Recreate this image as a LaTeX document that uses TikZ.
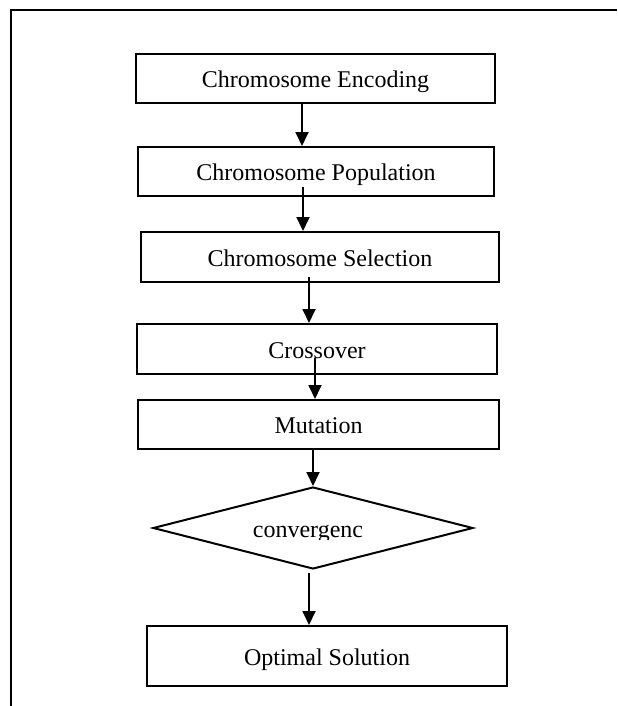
\documentclass[tikz,border=0pt]{standalone}
\usepackage{fontspec}
\setmainfont{Liberation Serif}
\usetikzlibrary{arrows.meta,shapes.geometric}
\begin{document}
\begin{tikzpicture}[x=0.5pt,y=-0.5pt,
  box/.style={draw,line width=1pt,rectangle,inner sep=0pt,text height=9.4pt,text depth=0pt,font=\fontsize{12pt}{14pt}\selectfont},
  flow/.style={line width=0.9pt,-{Triangle[length=7pt,width=6.5pt]}},
  frame/.style={line width=1pt}]
\useasboundingbox (0,0) rectangle (617,706);
% outer frame
\coordinate (fb) at (11,706);
\coordinate (fc) at (11,10);
\coordinate (fr) at (617,10);
\draw[frame] (fb) -- (fc) -- (fr);
% boxes
\node[box,minimum width=179.5pt,minimum height=24.5pt] (b1) at (315.5,78.5) {Chromosome Encoding};
\node[box,minimum width=178pt,minimum height=24.5pt] (b2) at (316,171.5) {Chromosome Population};
\node[box,minimum width=179pt,minimum height=25pt] (b3) at (320,257) {Chromosome Selection};
\node[box,minimum width=180pt,minimum height=25pt] (b4) at (317,349) {Crossover};
\node[box,minimum width=180.5pt,minimum height=24.5pt] (b5) at (318.5,424.5) {Mutation};
\node[draw,line width=1pt,shape=diamond,inner sep=0pt,aspect=3.9,minimum width=160pt,minimum height=41pt] (d) at (313,528) {};
\begin{scope}
  \clip (200,500) rectangle (420,539);
  \node[inner sep=0pt,font=\fontsize{12pt}{14pt}\selectfont] (dt) at (308,534) {convergenc};
\end{scope}
\node[box,minimum width=180pt,minimum height=30pt] (b6) at (327,656) {Optimal Solution};
% connectors
\coordinate (a1) at (302,0);
\coordinate (a2) at (303,187);
\coordinate (a3) at (309,277);
\coordinate (a4) at (315,358);
\coordinate (a6) at (309,573);
\draw[flow] (b1.south -| a1) -- (b2.north -| a1);
\draw[flow] (a2) -- (b3.north -| a2);
\draw[flow] (a3) -- (b4.north -| a3);
\draw[flow] (a4) -- (b5.north -| a4);
\draw[flow] (b5.south -| d.north) -- (d.north);
\draw[flow] (a6) -- (b6.north -| a6);
\end{tikzpicture}
\end{document}
